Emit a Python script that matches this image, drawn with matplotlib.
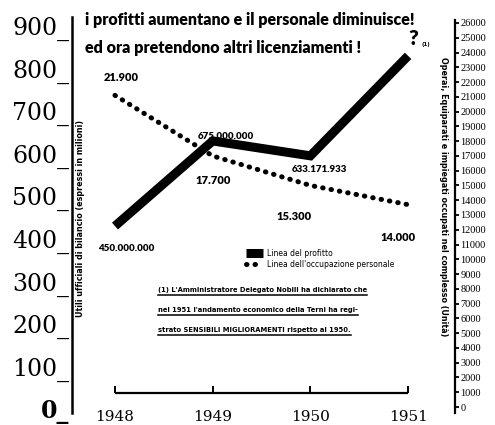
import numpy as np
import matplotlib.pyplot as plt
from matplotlib.lines import Line2D

# dati
anni = [1948, 1949, 1950, 1951]
profitti = [430, 630, 595, 830]            # milioni (posizione nel disegno)
personale = [21100, 17000, 15000, 13700]   # unita' (posizione nel disegno)
etich_profitti = ["450.000.000", "675.000.000", "633.171.933"]
etich_personale = ["21.900", "17.700", "15.300", "14.000"]
tick_sx = list(range(0, 1000, 100))
tick_dx = list(range(0, 27000, 1000))

titolo = ["i profitti aumentano e il personale diminuisce!",
          "ed ora pretendono altri licenziamenti !"]
nota = ["(1) L'Amministratore Delegato Nobili ha dichiarato che",
        "nel 1951 l'andamento economico della Terni ha regi-",
        "strato SENSIBILI MIGLIORAMENTI rispetto al 1950."]

stretto = ['Lato', 'DejaVu Sans']

fig = plt.figure(figsize=(4.95, 4.25), dpi=100)
ax = fig.add_axes([72 / 495, 12 / 425, 383 / 495, 398 / 425])
ax2 = ax.twinx()

ax.set_xlim(1947.56, 1951.48)
ax.set_ylim(-9.4, 926)
ax2.set_ylim(-406, 26540)

# linea del profitto
ax.plot(anni, profitti, color='black', lw=6.5, solid_capstyle='butt',
        solid_joinstyle='miter', zorder=3)
# linea dell'occupazione
ax2.plot(anni, personale, color='black', lw=3.6, linestyle=(0, (0.1, 1.6)),
         dash_capstyle='round', zorder=3)

# asse degli anni
ax.hlines(37.6, anni[0], anni[-1], color='black', lw=1.6)
ax.vlines(anni, 37.6, 54, color='black', lw=1.4)
ax.set_xticks(anni)
ax.set_xticklabels([str(a) for a in anni], family='DejaVu Serif', fontsize=11)
ax.tick_params(axis='x', length=0, pad=-2)

# asse sinistro
ax.set_yticks(tick_sx)
ax.set_yticklabels([f"{v}_" for v in tick_sx], family='DejaVu Serif', fontsize=17)
ax.get_yticklabels()[0].set_fontweight('bold')
ax.tick_params(axis='y', length=0, pad=2)
for s in ['top', 'bottom', 'right']:
    ax.spines[s].set_visible(False)
ax.spines['left'].set_linewidth(1.8)
ax.spines['left'].set_bounds(-9.4, 921)

# asse destro
ax2.set_yticks(tick_dx)
ax2.set_yticklabels([str(v) for v in tick_dx], family='Liberation Serif', fontsize=7.5)
ax2.tick_params(axis='y', length=3, width=1.3, pad=1, direction='out')
for s in ['top', 'bottom', 'left']:
    ax2.spines[s].set_visible(False)
ax2.spines['right'].set_linewidth(1.6)
ax2.spines['right'].set_bounds(-406, 26200)

# titoli degli assi
ax.text(0.021, 0.49, "Utili ufficiali di bilancio (espressi in milioni)",
        transform=ax.transAxes, rotation=90, ha='center', va='center',
        fontsize=5.8, fontweight='bold')
ax.text(0.969, 0.543, "Operai, Equiparati e impiegati occupati nel complesso (Unità)",
        transform=ax.transAxes, rotation=270, ha='center', va='center',
        fontsize=5.8, fontweight='bold')

# etichette dei valori
off_p = [(8, -16), (9.5, 3), (6.5, -10)]
for x, y, t, o in zip(anni, profitti, etich_profitti, off_p):
    ax.annotate(t, (x, y), xytext=o, textcoords='offset points', ha='center',
                va='center', family=stretto, fontweight='heavy', fontsize=7)
off_o = [(4.5, 13), (0, -18), (-11.5, -22), (-7, -24)]
for x, y, t, o in zip(anni, personale, etich_personale, off_o):
    ax2.annotate(t, (x, y), xytext=o, textcoords='offset points', ha='center',
                 va='center', family=stretto, fontweight='heavy', fontsize=8)
ax.annotate("?", (anni[-1], profitti[-1]), xytext=(3.6, 12.5), textcoords='offset points',
            ha='center', va='center', fontsize=15, fontweight='heavy', family=stretto)
ax.annotate("(1)", (anni[-1], profitti[-1]), xytext=(12.5, 8), textcoords='offset points',
            ha='center', va='center', fontsize=4, fontweight='bold')

# titolo
tit = [fig.text(85 / 495, 1 - 20 / 425, titolo[0], family=stretto, fontweight='heavy',
                fontsize=13, va='center', ha='left'),
       fig.text(85 / 495, 1 - 48 / 425, titolo[1], family=stretto, fontweight='heavy',
                fontsize=13, va='center', ha='left')]

# legenda
h1 = Line2D([], [], color='black', lw=6.5, solid_capstyle='butt')
h2 = Line2D([], [], color='black', lw=3.6, linestyle=(0, (0.1, 1.6)), dash_capstyle='round')
fig.legend([h1, h2], ["Linea del profitto", "Linea dell'occupazione personale"],
           loc='upper left', bbox_to_anchor=(246 / 495, 1 - 249 / 425), frameon=False,
           fontsize=5.5, handlelength=2.2, handletextpad=0.6, labelspacing=0.25,
           borderpad=0, borderaxespad=0)

# nota sottolineata
testi = []
for i, riga in enumerate(nota):
    testi.append(fig.text(158 / 495, 1 - (290 + 20 * i) / 425, riga, fontsize=4.9,
                          fontweight='bold', va='center', ha='left'))

# il titolo deve stare nella larghezza dell'originale
fig.canvas.draw()
for t, w in zip(tit, [330, 277]):
    t.set_fontsize(t.get_fontsize() * w / t.get_window_extent().width)

fig.canvas.draw()
inv = fig.transFigure.inverted()
for t in testi:
    bb = t.get_window_extent()
    (x0, y0), (x1, y1) = inv.transform([(bb.x0, bb.y0 - 2), (bb.x1, bb.y0 - 2)])
    fig.add_artist(Line2D([x0, x1], [y0, y1], color='black', lw=1.1,
                          transform=fig.transFigure))

fig.savefig('out.png', dpi=100)
